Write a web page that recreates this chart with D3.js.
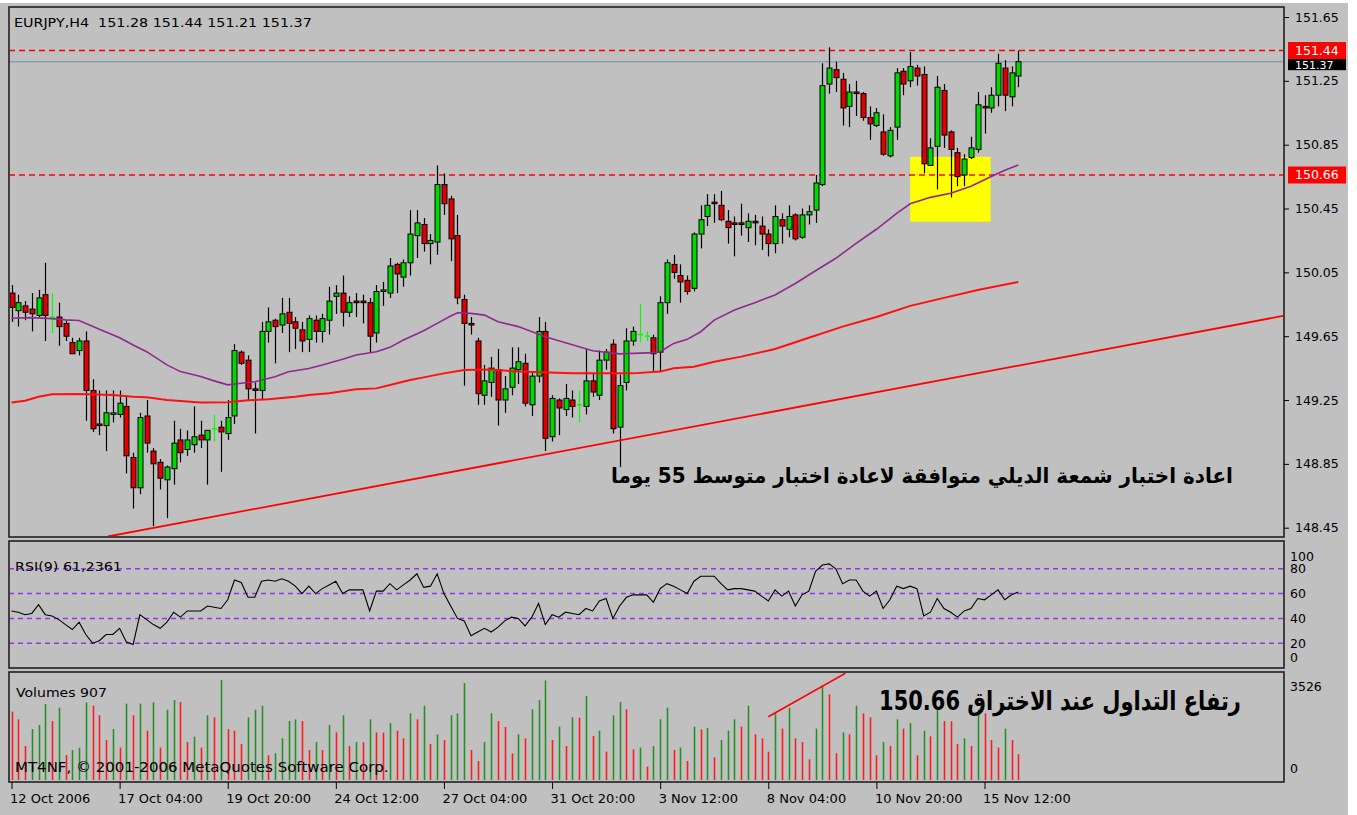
<!DOCTYPE html>
<html><head><meta charset="utf-8">
<script src="https://cdn.jsdelivr.net/npm/d3@7"></script>
<style>body{margin:0;background:#fff;} svg{display:block;}</style>
</head><body><svg id="c" width="1357" height="815"></svg>
<script>
// ---------- DATA ----------
const opens = [149.92,149.81,149.84,149.82,149.78,149.91,149.77,149.77,149.73,149.61,149.56,149.62,149.31,149.10,149.09,149.16,149.16,149.21,148.89,148.70,
149.15,148.93,148.86,148.75,148.82,149.00,148.94,148.97,149.03,149.00,149.07,149.08,149.04,149.15,149.55,149.50,149.32,149.31,149.68,149.75,
149.72,149.80,149.74,149.69,149.63,149.75,149.68,149.75,149.90,149.92,149.80,149.87,149.87,149.86,149.67,149.93,149.92,150.10,150.02,150.11,
150.28,150.35,150.23,150.24,150.60,150.51,150.28,149.88,149.73,149.62,149.28,149.36,149.44,149.25,149.33,149.44,149.48,149.22,149.40,149.68,
149.02,149.25,149.19,149.25,149.22,149.21,149.37,149.28,149.50,149.60,149.08,149.36,149.62,149.66,149.65,149.64,149.55,149.86,150.10,150.03,
150.00,149.95,150.29,150.40,150.49,150.47,150.37,150.36,150.36,150.33,150.37,150.34,150.29,150.23,150.38,150.32,150.41,150.27,150.41,150.44,
150.60,151.23,151.32,151.26,151.09,151.18,151.17,151.02,150.97,150.93,150.78,150.96,151.31,151.25,151.33,151.29,150.72,150.84,151.19,150.93,
150.80,150.66,150.77,150.82,151.09,151.08,151.16,151.33,151.15,151.28];
const highs = [149.97,149.91,149.87,149.92,149.94,150.11,149.92,149.86,149.75,149.64,149.64,149.68,149.38,149.31,149.31,149.31,149.31,149.27,148.92,149.17,
149.25,148.95,148.88,148.84,149.12,149.07,149.06,149.21,149.12,149.06,149.16,149.12,149.25,149.60,149.56,149.53,149.36,149.74,149.83,149.76,
149.89,149.89,149.77,149.74,149.78,149.78,149.79,149.96,149.97,150.03,149.90,149.92,149.91,149.89,149.97,149.99,150.14,150.11,150.13,150.44,
150.44,150.39,150.29,150.72,150.67,150.53,150.41,149.91,149.77,149.64,149.47,149.52,149.57,149.40,149.58,149.58,149.54,149.42,149.77,149.74,
149.28,149.26,149.35,149.31,149.31,149.57,149.42,149.56,149.57,149.63,149.41,149.70,149.71,149.85,149.68,149.66,149.90,150.13,150.16,150.10,
150.03,150.30,150.47,150.54,150.54,150.56,150.44,150.40,150.48,150.42,150.41,150.40,150.32,150.47,150.42,150.47,150.42,150.45,150.47,150.66,
151.36,151.46,151.37,151.30,151.23,151.25,151.18,151.09,151.08,151.04,150.96,151.33,151.33,151.43,151.35,151.34,150.89,151.28,151.23,150.94,
150.83,150.79,150.90,151.18,151.16,151.21,151.42,151.38,151.34,151.44];
const lows = [149.74,149.71,149.75,149.68,149.77,149.62,149.67,149.59,149.62,149.54,149.53,149.12,149.05,149.03,148.93,149.11,149.14,148.79,148.57,148.66,
148.92,148.46,148.69,148.51,148.72,148.86,148.90,148.92,148.95,148.72,148.99,148.80,149.00,149.10,149.47,149.25,149.04,149.25,149.61,149.48,
149.67,149.55,149.57,149.55,149.55,149.61,149.61,149.66,149.79,149.71,149.77,149.77,149.73,149.55,149.61,149.84,149.89,149.92,149.96,150.03,
150.14,150.18,150.10,150.16,150.41,150.12,149.85,149.34,149.66,149.22,149.22,149.27,149.09,149.17,149.28,149.35,149.21,149.15,149.36,148.93,
148.99,149.03,149.15,149.14,149.11,149.16,149.27,149.25,149.44,149.04,148.83,149.31,149.59,149.61,149.62,149.43,149.43,149.79,150.01,149.86,
149.91,149.93,150.20,150.34,150.36,150.37,150.23,150.15,150.28,150.24,150.22,150.19,150.15,150.17,150.23,150.27,150.25,150.26,150.35,150.36,
150.59,151.17,151.18,150.97,150.96,151.03,151.00,150.88,150.96,150.78,150.77,150.88,151.16,151.21,151.22,150.67,150.72,150.57,150.83,150.52,
150.59,150.59,150.76,150.80,150.92,151.05,151.09,151.06,151.09,151.21];
const closes = [149.83,149.86,149.80,149.79,149.89,149.78,149.77,149.71,149.65,149.54,149.62,149.31,149.07,149.09,149.17,149.17,149.23,148.90,148.70,149.14,
148.98,148.85,148.76,148.83,148.98,148.92,149.00,149.02,149.00,149.06,149.07,149.05,149.14,149.56,149.48,149.32,149.31,149.68,149.74,149.71,
149.79,149.73,149.70,149.62,149.76,149.68,149.76,149.87,149.92,149.80,149.86,149.86,149.86,149.65,149.93,149.94,150.09,150.04,150.11,150.29,
150.36,150.23,150.25,150.60,150.48,150.26,149.89,149.73,149.72,149.29,149.37,149.45,149.25,149.32,149.45,149.49,149.23,149.40,149.68,149.01,
149.26,149.20,149.26,149.21,149.22,149.37,149.30,149.50,149.55,149.07,149.34,149.62,149.68,149.66,149.65,149.54,149.86,150.11,150.05,149.99,
149.93,150.29,150.38,150.47,150.48,150.38,150.33,150.35,150.35,150.37,150.36,150.29,150.23,150.40,150.34,150.40,150.26,150.41,150.43,150.61,
151.22,151.33,151.27,151.08,151.18,151.17,151.02,150.98,151.05,150.79,150.94,151.30,151.23,151.34,151.28,150.73,150.83,151.21,150.91,150.82,
150.65,150.76,150.83,151.10,151.08,151.16,151.36,151.16,151.30,151.37];
const volumes = [2410,2139,1199,1798,1939,2680,2080,2550,882,1058,1140,2739,2621,2280,1410,1798,1140,2692,2280,2692,
1740,2739,1140,2480,2821,2750,1340,1528,1140,2280,2210,3526,1798,1740,1270,2210,2480,2621,870,940,
1469,2080,2139,2080,1058,1340,1058,1939,1681,2280,1199,1340,1330,2139,1681,1670,2010,1740,1469,2351,
2139,2621,1270,1610,1410,2280,2351,3420,1058,670,1340,2351,2080,1869,940,1610,1469,2492,2821,3510,
1410,1881,1199,2210,2200,2962,1551,1740,999,2280,2750,2492,1081,1140,470,1199,2139,2550,1058,1140,
670,1881,1786,1833,799,1410,1740,2139,1881,2621,1610,1469,999,2351,1810,2550,1469,1340,729,1810,
3350,3021,940,1681,1610,2621,2351,2210,870,1340,1199,2139,1810,2010,870,1740,1540,2550,2080,2070,
1270,1469,1199,2480,2351,1410,1140,1810,1410,907];
const rsi = [46,45,43,44,51,43,42,39,35,31,37,27,20,22,27,27,32,21,19,43,
39,35,32,37,45,41,46,46,46,50,49,48,55,71,69,57,57,70,71,70,
72,70,66,60,66,60,64,67,70,60,63,63,63,46,62,62,68,63,67,71,
76,65,66,76,60,50,40,38,26,29,32,29,33,38,41,40,34,41,52,35,
43,41,45,44,43,48,46,54,56,40,50,57,59,59,59,53,64,68,66,63,
60,70,74,74,74,68,63,64,64,63,62,58,54,63,58,62,50,59,62,78,
83,84,80,68,71,71,62,58,62,48,55,66,64,66,64,42,45,56,48,45,
41,46,48,56,55,59,63,55,59,61.24];
const maPurpleBars = [0,3,6,8,10,13,16,18,20,23,25,28,30,32,34,36,39,41,44,46,49,51,54,56,58,61,63,65,66,68,70,72,75,79,84,86,90,95,96,98,100,102,104,107,110,113,116,119,122,125,128,131,133,136,139,142,145,147,149];
const maPurpleVals = [149.762,149.766,149.760,149.752,149.748,149.693,149.640,149.595,149.553,149.470,149.428,149.397,149.370,149.345,149.355,149.365,149.396,149.427,149.448,149.469,149.505,149.532,149.553,149.580,149.626,149.684,149.730,149.776,149.797,149.793,149.782,149.740,149.710,149.647,149.584,149.559,149.539,149.547,149.553,149.605,149.630,149.678,149.751,149.814,149.860,149.908,149.980,150.060,150.138,150.232,150.320,150.420,150.480,150.520,150.545,150.590,150.650,150.690,150.722];
const maRedBars = [0,2,4,6,10,15,18,20,23,28,32,35,38,42,44,47,51,54,56,59,61,64,67,71,75,83,92,96,98,101,104,108,113,118,123,128,133,138,143,149];
const maRedVals = [149.234,149.246,149.271,149.286,149.288,149.282,149.271,149.267,149.250,149.235,149.236,149.248,149.255,149.271,149.281,149.292,149.317,149.323,149.344,149.375,149.392,149.417,149.438,149.442,149.428,149.417,149.417,149.428,149.449,149.459,149.490,149.522,149.570,149.640,149.710,149.770,149.840,149.890,149.940,149.990];
const priceTicks = [151.65,151.25,150.85,150.45,150.05,149.65,149.25,148.85,148.45];
const rsiTicks = [100,80,60,40,20,0];
const rsiLevels = [80,60,40,20];
const volTicks = [3526,0];
const timeTickBars = [0,16,32,48,64,80,96,112,128,144];
const timeTickLabels = ["12 Oct 2006","17 Oct 04:00","19 Oct 20:00","24 Oct 12:00","27 Oct 04:00","31 Oct 20:00","3 Nov 12:00","8 Nov 04:00","10 Nov 20:00","15 Nov 12:00"];
const hLevels = [151.44, 150.66];
const bidPrice = 151.37;
const trendBars = [14.28, 188.2], trendPrices = [148.395, 149.777];
const volTrendBars = [112.0, 123.4], volTrendVals = [2232, 3762];
const boxBars = [133.0, 144.9], boxPrices = [150.367, 150.774];
const titleText = "EURJPY,H4\u00A0\u00A0151.28 151.44 151.21 151.37";
const rsiTitle = "RSI(9) 61,2361";
const volTitle = "Volumes 907";
const copyright = "MT4NF, \u00A9 2001-2006 MetaQuotes Software Corp.";
const note1 = "اعادة اختبار شمعة الديلي متوافقة لاعادة اختبار متوسط 55 يوما";
const note2 = "رتفاع التداول عند الاختراق 150.66";

// ---------- LAYOUT ----------
const L = 9, R = 1284;
const main = {t:7, b:537}, rp = {t:541, b:668}, vp = {t:672, b:782};
const FONT = "DejaVu Sans, Verdana, sans-serif";

const svg = d3.select("#c");
svg.append("rect").attr("x",0).attr("y",3).attr("width",1348).attr("height",812).attr("fill","#c0c0c0");

const x = d3.scaleLinear().domain([0,149]).range([11.5, 11.5+6.757*149]);
const y = d3.scaleLinear().domain([148.45,151.65]).range([527.7,17.0]);
const yR = d3.scaleLinear().domain([0,100]).range([668,544]);
const yV = d3.scaleLinear().domain([0,3526]).range([780,680]);

const defs = svg.append("defs");
function clip(id, p){ defs.append("clipPath").attr("id",id).append("rect").attr("x",L+1).attr("y",p.t+1).attr("width",R-L-2).attr("height",p.b-p.t-2); }
clip("cm",main); clip("cr",rp); clip("cv",vp);

function fitText(sel, w, anchorLeft){ const n=sel.node(); const cw=n.getComputedTextLength(); const cx=+sel.attr("x"), cy=+sel.attr("y");
  sel.attr("transform",`translate(${cx},${cy}) scale(${w/cw},1) translate(${-cx},${-cy})`); }

// ---------- MAIN PANEL ----------
const gm = svg.append("g").attr("clip-path","url(#cm)");
gm.append("rect").attr("x",x(boxBars[0])).attr("y",y(boxPrices[1]))
  .attr("width",x(boxBars[1])-x(boxBars[0])).attr("height",y(boxPrices[0])-y(boxPrices[1])).attr("fill","#ffff00");
gm.append("line").attr("x1",L).attr("x2",R).attr("y1",y(bidPrice)).attr("y2",y(bidPrice)).attr("stroke","#8d9db0").attr("stroke-width",1.5);
hLevels.forEach(v=>gm.append("line").attr("x1",L).attr("x2",R).attr("y1",y(v)).attr("y2",y(v))
  .attr("stroke","#ff0000").attr("stroke-width",1.5).attr("stroke-dasharray","6,4"));

const idx = d3.range(opens.length);
const cg = gm.append("g");
idx.forEach(i=>{
  const cx = Math.round(x(i))+0.5;
  const o=opens[i], c=closes[i];
  const doji = o===c;
  cg.append("line").attr("x1",cx).attr("x2",cx).attr("y1",y(highs[i])).attr("y2",y(lows[i]))
    .attr("stroke", doji ? "#00ff00" : "#000").attr("stroke-width",1.2);
  if (doji){
    cg.append("line").attr("x1",cx-2.5).attr("x2",cx+2.5).attr("y1",y(o)).attr("y2",y(o)).attr("stroke","#00ff00").attr("stroke-width",1.5);
  } else {
    const top = y(Math.max(o,c)), bot = y(Math.min(o,c));
    cg.append("rect").attr("x",cx-2.5).attr("y",top).attr("width",5).attr("height",Math.max(1,bot-top))
      .attr("fill", c>o ? "#00d800" : "#e00000").attr("stroke","#000").attr("stroke-width",1);
  }
});
const lineGen = d3.line().x(d=>x(d[0])).y(d=>y(d[1]));
gm.append("path").datum(maRedBars.map((b,i)=>[b,maRedVals[i]])).attr("d",lineGen)
  .attr("fill","none").attr("stroke","#ff1010").attr("stroke-width",2);
gm.append("path").datum(maPurpleBars.map((b,i)=>[b,maPurpleVals[i]])).attr("d",lineGen)
  .attr("fill","none").attr("stroke","#902890").attr("stroke-width",1.6);
gm.append("line").attr("x1",x(trendBars[0])).attr("y1",y(trendPrices[0])).attr("x2",x(trendBars[1])).attr("y2",y(trendPrices[1]))
  .attr("stroke","#ff0000").attr("stroke-width",1.8);

const t1 = svg.append("text").attr("x",922).attr("y",483).attr("text-anchor","middle").attr("direction","rtl")
  .style("font-family",FONT).style("font-weight","bold").style("font-size","21px").attr("fill","#000").text(note1);
fitText(t1, 622);

const tt = svg.append("text").attr("x",14).attr("y",27).style("font-family",FONT).style("font-size","13px").attr("fill","#000").text(titleText);
fitText(tt, 298);

// ---------- RSI PANEL ----------
const gr = svg.append("g").attr("clip-path","url(#cr)");
rsiLevels.forEach(v=>gr.append("line").attr("x1",L).attr("x2",R).attr("y1",yR(v)).attr("y2",yR(v))
  .attr("stroke","#9933ee").attr("stroke-width",1.5).attr("stroke-dasharray","5,4"));
gr.append("path").datum(rsi).attr("d",d3.line().x((d,i)=>x(i)).y(d=>yR(d)))
  .attr("fill","none").attr("stroke","#000").attr("stroke-width",1.1);
const tr = svg.append("text").attr("x",15).attr("y",571).style("font-family",FONT).style("font-size","13px").attr("fill","#000").text(rsiTitle);
fitText(tr, 107);

// ---------- VOLUME PANEL ----------
const gv = svg.append("g").attr("clip-path","url(#cv)");
volumes.forEach((v,i)=>{
  const up = i>0 && v>volumes[i-1];
  const cx = Math.round(x(i))+0.5;
  gv.append("line").attr("x1",cx).attr("x2",cx).attr("y1",yV(0)).attr("y2",yV(v))
    .attr("stroke", up ? "#259125" : "#ff1c1c").attr("stroke-width",1.6);
});
gv.append("line").attr("x1",x(volTrendBars[0])).attr("y1",yV(volTrendVals[0])).attr("x2",x(volTrendBars[1])).attr("y2",yV(volTrendVals[1]))
  .attr("stroke","#ff0000").attr("stroke-width",1.6);
const tv = svg.append("text").attr("x",16).attr("y",697).style("font-family",FONT).style("font-size","13px").attr("fill","#000").text(volTitle);
fitText(tv, 91);
const tc = svg.append("text").attr("x",15).attr("y",772).style("font-family",FONT).style("font-size","14px").attr("fill","#000").text(copyright);
fitText(tc, 374);
const t2 = svg.append("text").attr("x",1060).attr("y",710).attr("text-anchor","middle").attr("direction","rtl")
  .style("font-family",FONT).style("font-weight","bold").style("font-size","26px").attr("fill","#000").text(note2);
fitText(t2, 362);

// ---------- PANEL BORDERS ----------
[main, rp, vp].forEach(p=>svg.append("rect").attr("x",L).attr("y",p.t).attr("width",R-L).attr("height",p.b-p.t)
  .attr("fill","none").attr("stroke","#202020").attr("stroke-width",1.6));

// ---------- AXES ----------
function styleAxis(g, fs){ g.select(".domain").remove(); g.selectAll("line").attr("stroke","#000");
  g.selectAll("text").style("font-family",FONT).style("font-size",fs||"12.5px").attr("fill","#000"); }
const ay = svg.append("g").attr("transform",`translate(${R},0)`)
  .call(d3.axisRight(y).tickValues(priceTicks).tickSize(5).tickPadding(6).tickFormat(d3.format(".2f")));
styleAxis(ay);
const ar = svg.append("g").attr("transform",`translate(${R},0)`)
  .call(d3.axisRight(yR).tickValues(rsiTicks).tickSize(0).tickPadding(6));
styleAxis(ar);
ar.selectAll(".tick").filter(d=>d===100).select("text").attr("dy","1.3em");
ar.selectAll(".tick").filter(d=>d===0).select("text").attr("dy","-0.55em");
const av = svg.append("g").attr("transform",`translate(${R},0)`)
  .call(d3.axisRight(yV).tickValues(volTicks).tickSize(0).tickPadding(6).tickFormat(d3.format("d")));
styleAxis(av);
av.selectAll(".tick").filter(d=>d===3526).select("text").attr("dy","0.85em");
av.selectAll(".tick").filter(d=>d===0).select("text").attr("dy","-0.6em");

const ax = svg.append("g").attr("transform",`translate(0,${vp.b})`)
  .call(d3.axisBottom(x).tickValues(timeTickBars).tickSize(7).tickPadding(5).tickFormat((d,i)=>timeTickLabels[i]));
styleAxis(ax, "13px");
ax.selectAll("text").attr("text-anchor","start").attr("dx","-2");

// price tags (the bid tag sits mostly under the 151.44 tag, as in the original)
function tag(v, fill, fs, dy){ const g=svg.append("g");
  g.append("rect").attr("x",R+4).attr("y",y(v)-8.5).attr("width",58).attr("height",17).attr("fill",fill);
  g.append("text").attr("x",R+11).attr("y",y(v)+dy).style("font-family",FONT).style("font-size",fs).attr("fill","#fff").text(d3.format(".2f")(v)); }
tag(bidPrice,"#000","11px",7.5);
tag(hLevels[0],"#ff0000","12.5px",4.5);
tag(hLevels[1],"#ff0000","12.5px",4.5);
</script></body></html>
